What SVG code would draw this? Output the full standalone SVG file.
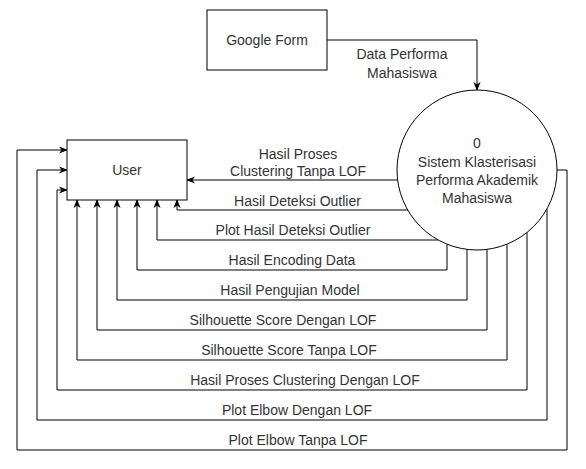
<svg xmlns="http://www.w3.org/2000/svg" width="586" height="469" viewBox="0 0 586 469">
<style>
.box{fill:#fff;stroke:#000;stroke-width:1}
.t{font-family:"Liberation Sans",Arial,sans-serif;font-size:14px;fill:#333;text-anchor:middle}
.e{fill:none;stroke:#000;stroke-width:1}
.a{marker-end:url(#arr)}
</style>
<defs>
<marker id="arr" viewBox="0 0 10 10" refX="9" refY="5" markerWidth="9" markerHeight="9" orient="auto" markerUnits="userSpaceOnUse">
<path d="M0,1 L10,5 L0,9 L3,5 Z" fill="#000"/>
</marker>
</defs>
<rect width="586" height="469" fill="#fff"/>
<g id="connectors">
<path class="e a" d="M327,40 H477 V90"/>
<path class="e a" d="M397.6,180 H187"/>
<path class="e a" d="M408,210 H177 V200"/>
<path class="e a" d="M438.3,240 H157 V200"/>
<path class="e a" d="M447,244.2 V270 H137 V200"/>
<path class="e a" d="M467,249.4 V300 H117 V200"/>
<path class="e a" d="M487,249.4 V330 H97 V200"/>
<path class="e a" d="M507,244.2 V360 H77 V200"/>
<path class="e a" d="M527,232.4 V390 H57 V190 H67"/>
<path class="e a" d="M547,208.7 V420 H37 V170 H67"/>
<path class="e a" d="M557,170 H567 V450 H17 V150 H67"/>
<g id="labels">
<text class="t" x="402" y="59">Data Performa</text>
<text class="t" x="402" y="78">Mahasiswa</text>
<text class="t" x="298" y="159">Hasil Proses</text>
<text class="t" x="298" y="176">Clustering Tanpa LOF</text>
<text class="t" x="297.5" y="206">Hasil Deteksi Outlier</text>
<text class="t" x="293" y="235">Plot Hasil Deteksi Outlier</text>
<text class="t" x="292" y="265">Hasil Encoding Data</text>
<text class="t" x="290" y="295">Hasil Pengujian Model</text>
<text class="t" x="283" y="325">Silhouette Score Dengan LOF</text>
<text class="t" x="289" y="355">Silhouette Score Tanpa LOF</text>
<text class="t" x="305" y="385">Hasil Proses Clustering Dengan LOF</text>
<text class="t" x="297" y="415">Plot Elbow Dengan LOF</text>
<text class="t" x="298" y="445">Plot Elbow Tanpa LOF</text>
</g>
</g>
<g id="google-form">
<rect class="box" x="207" y="10" width="120" height="60"/>
<text class="t" x="267" y="45">Google Form</text>
</g>
<g id="user">
<rect class="box" x="67" y="140" width="120" height="60"/>
<text class="t" x="127" y="175">User</text>
</g>
<g id="system">
<circle class="box" cx="477" cy="170" r="80"/>
<text class="t" x="477" y="148">0</text>
<text class="t" x="477" y="167">Sistem Klasterisasi</text>
<text class="t" x="477" y="185">Performa Akademik</text>
<text class="t" x="477" y="203">Mahasiswa</text>
</g>
</svg>
